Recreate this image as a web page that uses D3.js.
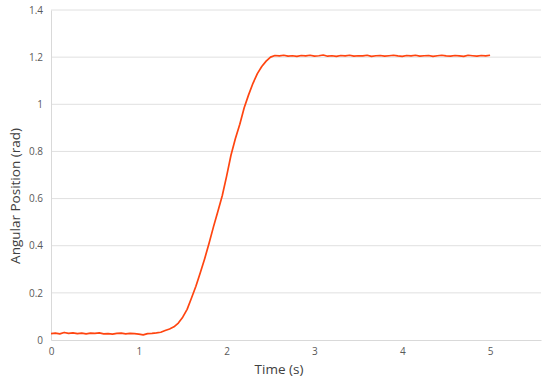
<!DOCTYPE html>
<html>
<head>
<style>
body{
    margin: 0;
    background: #fff;
}
text{
    font-family: "Open Sans", "Noto Sans", sans-serif;
}
</style>
</head>
<body>
<svg id="chart"></svg>
<script src="https://cdn.jsdelivr.net/npm/d3@7"></script>
<script>
// time samples (s)
var time = [0, 0.05, 0.1, 0.15, 0.2, 0.25, 0.3, 0.35, 0.4, 0.45,
    0.5, 0.55, 0.6, 0.65, 0.7, 0.75, 0.8, 0.85, 0.9, 0.95,
    1.0, 1.05, 1.1, 1.15, 1.2, 1.25, 1.3, 1.35, 1.4, 1.45,
    1.5, 1.55, 1.6, 1.65, 1.7, 1.75, 1.8, 1.85, 1.9, 1.95,
    2.0, 2.05, 2.1, 2.15, 2.2, 2.25, 2.3, 2.35, 2.4, 2.45,
    2.5, 2.55, 2.6, 2.65, 2.7, 2.75, 2.8, 2.85, 2.9, 2.95,
    3.0, 3.05, 3.1, 3.15, 3.2, 3.25, 3.3, 3.35, 3.4, 3.45,
    3.5, 3.55, 3.6, 3.65, 3.7, 3.75, 3.8, 3.85, 3.9, 3.95,
    4.0, 4.05, 4.1, 4.15, 4.2, 4.25, 4.3, 4.35, 4.4, 4.45,
    4.5, 4.55, 4.6, 4.65, 4.7, 4.75, 4.8, 4.85, 4.9, 4.95, 5.0];

// angular position (rad)
var angle = [0.027, 0.029, 0.026, 0.032, 0.028, 0.030, 0.027, 0.029, 0.026, 0.029,
    0.028, 0.030, 0.026, 0.027, 0.025, 0.028, 0.029, 0.026, 0.028, 0.027,
    0.025, 0.022, 0.027, 0.028, 0.030, 0.033, 0.040, 0.047, 0.056, 0.072,
    0.097, 0.130, 0.178, 0.228, 0.285, 0.345, 0.410, 0.480, 0.545, 0.612,
    0.695, 0.785, 0.855, 0.915, 0.985, 1.040, 1.089, 1.130, 1.160, 1.183,
    1.200, 1.207, 1.205, 1.208, 1.204, 1.206, 1.203, 1.207, 1.205, 1.208,
    1.204, 1.206, 1.209, 1.204, 1.206, 1.203, 1.207, 1.205, 1.208, 1.204,
    1.206, 1.205, 1.208, 1.203, 1.206, 1.207, 1.204, 1.206, 1.208, 1.205,
    1.203, 1.207, 1.205, 1.208, 1.204, 1.206, 1.207, 1.203, 1.206, 1.208,
    1.205, 1.204, 1.207, 1.205, 1.203, 1.208, 1.206, 1.204, 1.207, 1.205, 1.208];

var xTicks = [0, 1, 2, 3, 4, 5];
var yTicks = [0, 0.2, 0.4, 0.6, 0.8, 1, 1.2, 1.4];

var width = 550;
var height = 379;
var margin = {
    top: 10,
    bottom: 39,
    left: 51,
    right: 9
};

var x = d3.scaleLinear().domain([0, 5.58]).range([margin.left, width - margin.right]);
var y = d3.scaleLinear().domain([0, 1.4]).range([height - margin.bottom, margin.top]);

var svg = d3.select('#chart')
    .attr('width', width)
    .attr('height', height);

// gridlines
svg.append('g')
    .selectAll('line').data(yTicks.slice(1))
    .enter().append('line')
    .attr('x1', x(0))
    .attr('x2', width - margin.right)
    .attr('y1', function (d) { return y(d); })
    .attr('y2', function (d) { return y(d); })
    .attr('stroke', '#e0e0e0')
    .attr('stroke-width', 1);

// axes
var xAxis = svg.append('g')
    .attr('transform', 'translate(0,' + y(0) + ')')
    .call(d3.axisBottom(x).tickValues(xTicks).tickSize(0).tickPadding(8).tickFormat(d3.format('d')));
var yAxis = svg.append('g')
    .attr('transform', 'translate(' + x(0) + ',0)')
    .call(d3.axisLeft(y).tickValues(yTicks).tickSize(0).tickPadding(8).tickFormat(function (d) { return d; }));

[xAxis, yAxis].forEach(function (a) {
    a.select('.domain').attr('stroke', '#d9d9d9').attr('stroke-width', 1);
    a.selectAll('text').attr('fill', '#595959').attr('font-size', 10)
        .attr('font-family', '"Open Sans", "Noto Sans", sans-serif');
});

// line
var line = d3.line()
    .x(function (d, i) { return x(time[i]); })
    .y(function (d) { return y(d); });

svg.append('path')
    .datum(angle)
    .attr('d', line)
    .attr('fill', 'none')
    .attr('stroke', '#ff4510')
    .attr('stroke-width', 1.7)
    .attr('stroke-linejoin', 'round');

// axis titles
svg.append('text')
    .attr('x', 279)
    .attr('y', 374)
    .attr('text-anchor', 'middle')
    .attr('font-size', 13.5)
    .attr('fill', '#404040')
    .text('Time (s)');

svg.append('text')
    .attr('transform', 'translate(20,196) rotate(-90)')
    .attr('text-anchor', 'middle')
    .attr('font-size', 13.5)
    .attr('fill', '#404040')
    .text('Angular Position (rad)');
</script>
</body>
</html>
